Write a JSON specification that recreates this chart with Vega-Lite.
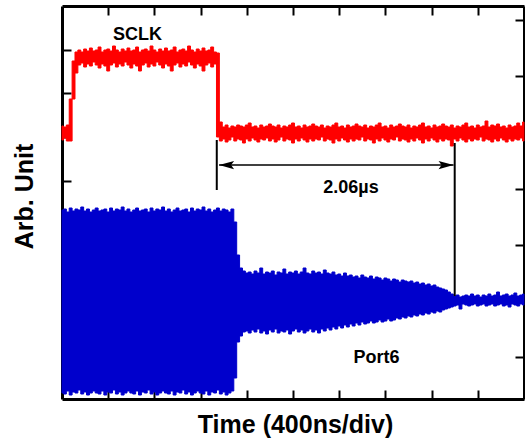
{
  "$schema": "https://vega.github.io/schema/vega-lite/v6.json",
  "autosize": "none",
  "width": 462,
  "height": 393,
  "padding": {"left": 62, "top": 6, "right": 1, "bottom": 46},
  "background": "white",
  "config": {"view": {"stroke": null}, "font": "Liberation Sans"},
  "datasets": {
    "traces": [
      {"t":0,"rt":273,"rb":259,"bt":189,"bb":6},
      {"t":25,"rt":272,"rb":261,"bt":190,"bb":5},
      {"t":50,"rt":274,"rb":258,"bt":187,"bb":8},
      {"t":75,"rt":300,"rb":258,"bt":191,"bb":4},
      {"t":100,"rt":338,"rb":300,"bt":188,"bb":7},
      {"t":125,"rt":347,"rb":326,"bt":190,"bb":6},
      {"t":150,"rt":349,"rb":334,"bt":189,"bb":9},
      {"t":175,"rt":347,"rb":336,"bt":192,"bb":5},
      {"t":200,"rt":350,"rb":332,"bt":188,"bb":7},
      {"t":225,"rt":348,"rb":335,"bt":190,"bb":4},
      {"t":250,"rt":351,"rb":333,"bt":187,"bb":6},
      {"t":275,"rt":348,"rb":337,"bt":189,"bb":8},
      {"t":300,"rt":349,"rb":334,"bt":191,"bb":6},
      {"t":325,"rt":352,"rb":331,"bt":188,"bb":5},
      {"t":350,"rt":347,"rb":335,"bt":189,"bb":8},
      {"t":375,"rt":349,"rb":333,"bt":190,"bb":4},
      {"t":400,"rt":350,"rb":328,"bt":187,"bb":7},
      {"t":425,"rt":348,"rb":334,"bt":191,"bb":6},
      {"t":450,"rt":353,"rb":336,"bt":188,"bb":9},
      {"t":475,"rt":349,"rb":332,"bt":190,"bb":5},
      {"t":500,"rt":347,"rb":335,"bt":189,"bb":7},
      {"t":525,"rt":350,"rb":333,"bt":192,"bb":4},
      {"t":550,"rt":348,"rb":337,"bt":188,"bb":6},
      {"t":575,"rt":351,"rb":334,"bt":190,"bb":8},
      {"t":600,"rt":348,"rb":331,"bt":187,"bb":6},
      {"t":625,"rt":349,"rb":335,"bt":189,"bb":5},
      {"t":650,"rt":352,"rb":333,"bt":191,"bb":8},
      {"t":675,"rt":347,"rb":328,"bt":188,"bb":4},
      {"t":700,"rt":349,"rb":334,"bt":189,"bb":7},
      {"t":725,"rt":350,"rb":336,"bt":190,"bb":6},
      {"t":750,"rt":348,"rb":332,"bt":187,"bb":9},
      {"t":775,"rt":353,"rb":335,"bt":191,"bb":5},
      {"t":800,"rt":349,"rb":333,"bt":188,"bb":7},
      {"t":825,"rt":347,"rb":337,"bt":190,"bb":4},
      {"t":850,"rt":350,"rb":334,"bt":189,"bb":6},
      {"t":875,"rt":348,"rb":331,"bt":192,"bb":8},
      {"t":900,"rt":351,"rb":335,"bt":188,"bb":6},
      {"t":925,"rt":348,"rb":333,"bt":190,"bb":5},
      {"t":950,"rt":349,"rb":328,"bt":187,"bb":8},
      {"t":975,"rt":352,"rb":334,"bt":189,"bb":4},
      {"t":1000,"rt":347,"rb":336,"bt":191,"bb":7},
      {"t":1025,"rt":349,"rb":332,"bt":188,"bb":6},
      {"t":1050,"rt":350,"rb":335,"bt":189,"bb":9},
      {"t":1075,"rt":348,"rb":333,"bt":190,"bb":5},
      {"t":1100,"rt":353,"rb":337,"bt":187,"bb":7},
      {"t":1125,"rt":349,"rb":334,"bt":191,"bb":4},
      {"t":1150,"rt":347,"rb":331,"bt":188,"bb":6},
      {"t":1175,"rt":350,"rb":335,"bt":190,"bb":8},
      {"t":1200,"rt":348,"rb":333,"bt":189,"bb":6},
      {"t":1225,"rt":351,"rb":328,"bt":192,"bb":5},
      {"t":1250,"rt":348,"rb":334,"bt":188,"bb":8},
      {"t":1275,"rt":349,"rb":336,"bt":190,"bb":4},
      {"t":1300,"rt":352,"rb":332,"bt":187,"bb":7},
      {"t":1325,"rt":347,"rb":335,"bt":189,"bb":6},
      {"t":1350,"rt":346,"rb":262,"bt":191,"bb":9},
      {"t":1375,"rt":277,"rb":258,"bt":188,"bb":5},
      {"t":1400,"rt":272,"rb":260,"bt":190,"bb":7},
      {"t":1425,"rt":274,"rb":257,"bt":189,"bb":4},
      {"t":1450,"rt":271,"rb":259,"bt":187,"bb":6},
      {"t":1475,"rt":273,"rb":262,"bt":190,"bb":8},
      {"t":1500,"rt":272,"rb":258,"bt":177,"bb":21},
      {"t":1525,"rt":274,"rb":260,"bt":144,"bb":57},
      {"t":1550,"rt":273,"rb":259,"bt":131,"bb":63},
      {"t":1575,"rt":272,"rb":256,"bt":128,"bb":67},
      {"t":1600,"rt":274,"rb":260,"bt":126,"bb":68},
      {"t":1625,"rt":276,"rb":258,"bt":127,"bb":66},
      {"t":1650,"rt":272,"rb":261,"bt":125,"bb":69},
      {"t":1675,"rt":273,"rb":259,"bt":128,"bb":67},
      {"t":1700,"rt":271,"rb":257,"bt":126,"bb":70},
      {"t":1725,"rt":274,"rb":260,"bt":131,"bb":66},
      {"t":1750,"rt":272,"rb":259,"bt":125,"bb":68},
      {"t":1775,"rt":273,"rb":261,"bt":127,"bb":65},
      {"t":1800,"rt":275,"rb":258,"bt":126,"bb":69},
      {"t":1825,"rt":273,"rb":260,"bt":128,"bb":67},
      {"t":1850,"rt":272,"rb":257,"bt":124,"bb":70},
      {"t":1875,"rt":274,"rb":259,"bt":127,"bb":66},
      {"t":1900,"rt":271,"rb":262,"bt":126,"bb":68},
      {"t":1925,"rt":273,"rb":258,"bt":130,"bb":67},
      {"t":1950,"rt":272,"rb":260,"bt":125,"bb":69},
      {"t":1975,"rt":274,"rb":259,"bt":127,"bb":65},
      {"t":2000,"rt":276,"rb":256,"bt":126,"bb":68},
      {"t":2025,"rt":272,"rb":260,"bt":128,"bb":70},
      {"t":2050,"rt":273,"rb":258,"bt":125,"bb":67},
      {"t":2075,"rt":271,"rb":261,"bt":127,"bb":69},
      {"t":2100,"rt":274,"rb":259,"bt":131,"bb":66},
      {"t":2125,"rt":272,"rb":257,"bt":126,"bb":68},
      {"t":2150,"rt":273,"rb":260,"bt":125,"bb":70},
      {"t":2175,"rt":275,"rb":258,"bt":128,"bb":67},
      {"t":2200,"rt":273,"rb":260,"bt":126,"bb":69},
      {"t":2225,"rt":272,"rb":259,"bt":127,"bb":66},
      {"t":2250,"rt":274,"rb":262,"bt":125,"bb":70},
      {"t":2275,"rt":271,"rb":258,"bt":129,"bb":68},
      {"t":2300,"rt":273,"rb":260,"bt":126,"bb":71},
      {"t":2325,"rt":272,"rb":259,"bt":125,"bb":69},
      {"t":2350,"rt":274,"rb":256,"bt":127,"bb":72},
      {"t":2375,"rt":276,"rb":260,"bt":124,"bb":70},
      {"t":2400,"rt":272,"rb":258,"bt":125,"bb":73},
      {"t":2425,"rt":273,"rb":261,"bt":123,"bb":71},
      {"t":2450,"rt":271,"rb":259,"bt":126,"bb":74},
      {"t":2475,"rt":274,"rb":257,"bt":123,"bb":72},
      {"t":2500,"rt":272,"rb":260,"bt":124,"bb":75},
      {"t":2525,"rt":273,"rb":258,"bt":122,"bb":73},
      {"t":2550,"rt":275,"rb":260,"bt":123,"bb":76},
      {"t":2575,"rt":273,"rb":259,"bt":121,"bb":74},
      {"t":2600,"rt":272,"rb":262,"bt":124,"bb":77},
      {"t":2625,"rt":274,"rb":258,"bt":122,"bb":75},
      {"t":2650,"rt":271,"rb":260,"bt":121,"bb":76},
      {"t":2675,"rt":273,"rb":259,"bt":123,"bb":78},
      {"t":2700,"rt":272,"rb":256,"bt":120,"bb":76},
      {"t":2725,"rt":274,"rb":260,"bt":122,"bb":77},
      {"t":2750,"rt":276,"rb":258,"bt":121,"bb":79},
      {"t":2775,"rt":272,"rb":261,"bt":119,"bb":77},
      {"t":2800,"rt":273,"rb":259,"bt":121,"bb":78},
      {"t":2825,"rt":271,"rb":257,"bt":120,"bb":80},
      {"t":2850,"rt":274,"rb":260,"bt":118,"bb":78},
      {"t":2875,"rt":272,"rb":259,"bt":120,"bb":79},
      {"t":2900,"rt":273,"rb":262,"bt":119,"bb":81},
      {"t":2925,"rt":275,"rb":258,"bt":117,"bb":80},
      {"t":2950,"rt":273,"rb":260,"bt":119,"bb":82},
      {"t":2975,"rt":272,"rb":259,"bt":118,"bb":81},
      {"t":3000,"rt":274,"rb":257,"bt":117,"bb":83},
      {"t":3025,"rt":271,"rb":260,"bt":118,"bb":82},
      {"t":3050,"rt":273,"rb":258,"bt":116,"bb":84},
      {"t":3075,"rt":272,"rb":261,"bt":117,"bb":83},
      {"t":3100,"rt":274,"rb":259,"bt":115,"bb":85},
      {"t":3125,"rt":276,"rb":256,"bt":116,"bb":84},
      {"t":3150,"rt":272,"rb":260,"bt":114,"bb":86},
      {"t":3175,"rt":273,"rb":258,"bt":115,"bb":85},
      {"t":3200,"rt":271,"rb":261,"bt":113,"bb":87},
      {"t":3225,"rt":274,"rb":259,"bt":114,"bb":86},
      {"t":3250,"rt":272,"rb":257,"bt":112,"bb":88},
      {"t":3275,"rt":273,"rb":260,"bt":111,"bb":87},
      {"t":3300,"rt":275,"rb":258,"bt":110,"bb":89},
      {"t":3325,"rt":273,"rb":260,"bt":109,"bb":90},
      {"t":3350,"rt":272,"rb":259,"bt":107,"bb":91},
      {"t":3375,"rt":274,"rb":253,"bt":105,"bb":92},
      {"t":3400,"rt":271,"rb":260,"bt":103,"bb":93},
      {"t":3425,"rt":273,"rb":258,"bt":104,"bb":94},
      {"t":3450,"rt":272,"rb":261,"bt":102,"bb":90},
      {"t":3475,"rt":274,"rb":259,"bt":103,"bb":95},
      {"t":3500,"rt":276,"rb":257,"bt":104,"bb":94},
      {"t":3525,"rt":272,"rb":260,"bt":103,"bb":93},
      {"t":3550,"rt":273,"rb":258,"bt":105,"bb":94},
      {"t":3575,"rt":271,"rb":260,"bt":103,"bb":95},
      {"t":3600,"rt":274,"rb":259,"bt":104,"bb":93},
      {"t":3625,"rt":272,"rb":262,"bt":102,"bb":94},
      {"t":3650,"rt":273,"rb":258,"bt":104,"bb":95},
      {"t":3675,"rt":278,"rb":260,"bt":103,"bb":93},
      {"t":3700,"rt":272,"rb":259,"bt":105,"bb":94},
      {"t":3725,"rt":274,"rb":257,"bt":103,"bb":95},
      {"t":3750,"rt":273,"rb":260,"bt":104,"bb":93},
      {"t":3775,"rt":275,"rb":258,"bt":107,"bb":94},
      {"t":3800,"rt":272,"rb":261,"bt":103,"bb":95},
      {"t":3825,"rt":273,"rb":259,"bt":104,"bb":93},
      {"t":3850,"rt":271,"rb":257,"bt":105,"bb":94},
      {"t":3875,"rt":274,"rb":260,"bt":103,"bb":92},
      {"t":3900,"rt":272,"rb":258,"bt":104,"bb":95},
      {"t":3925,"rt":273,"rb":260,"bt":106,"bb":94},
      {"t":3950,"rt":276,"rb":259,"bt":103,"bb":93},
      {"t":3975,"rt":273,"rb":261,"bt":104,"bb":95},
      {"t":4000,"rt":277,"rb":258,"bt":105,"bb":94}
    ],
    "markers": [
      {"t":1340,"v1":259,"v2":209},
      {"t":3400,"v1":256,"v2":103}
    ],
    "span": [
      {"t1":1360,"t2":3390,"v":234}
    ],
    "labels": [
      {"t":654,"v":359,"label":"SCLK"},
      {"t":2502,"v":206,"label":"2.06µs"},
      {"t":2723,"v":36,"label":"Port6"}
    ]
  },
  "resolve": {"axis": {"x": "independent", "y": "independent"}},
  "layer": [
    {
      "data": {"name": "traces"},
      "mark": {"type": "area", "color": "#ff0000", "stroke": "#ff0000", "strokeWidth": 1, "interpolate": "step"},
      "encoding": {
        "x": {"field": "t", "type": "quantitative", "scale": {"domain": [0, 4000], "nice": false, "zero": false},
          "axis": {"orient": "bottom", "values": [400,800,1200,1600,2000,2400,2800,3200,3600], "labels": false, "grid": false,
            "tickSize": -9, "tickWidth": 2, "tickColor": "black", "domainColor": "black", "domainWidth": 3,
            "title": "Time (400ns/div)", "titleFont": "Liberation Sans", "titleFontSize": 25, "titleFontWeight": "bold", "titleColor": "black",
            "titleX": 233, "titleY": 33, "titleBaseline": "alphabetic"}},
        "y": {"field": "rt", "type": "quantitative", "scale": {"domain": [0, 393], "nice": false, "zero": false},
          "axis": {"orient": "left", "values": [43.67,87.33,131,174.67,218.33,262,305.67,349.33], "labels": false, "grid": false,
            "tickSize": -9, "tickWidth": 2, "tickColor": "black", "domainColor": "black", "domainWidth": 3,
            "title": "Arb. Unit", "titleFont": "Liberation Sans", "titleFontSize": 25, "titleFontWeight": "bold", "titleColor": "black",
            "titleX": -30, "titleY": 190, "titleBaseline": "alphabetic", "titleAngle": 270}},
        "y2": {"field": "rb"}
      }
    },
    {
      "data": {"name": "traces"},
      "mark": {"type": "area", "color": "#0000cc", "stroke": "#0000cc", "strokeWidth": 1, "interpolate": "step"},
      "encoding": {
        "x": {"field": "t", "type": "quantitative",
          "axis": {"orient": "top", "values": [400,800,1200,1600,2000,2400,2800,3200,3600], "labels": false, "grid": false, "title": null,
            "tickSize": -9, "tickWidth": 2, "tickColor": "black", "domainColor": "black", "domainWidth": 3}},
        "y": {"field": "bt", "type": "quantitative",
          "axis": {"orient": "right", "values": [42,98,154,210,267,323,379], "labels": false, "grid": false, "title": null,
            "tickSize": -9, "tickWidth": 2, "tickColor": "black", "domainColor": "black", "domainWidth": 3}},
        "y2": {"field": "bb"}
      }
    },
    {
      "data": {"name": "markers"},
      "mark": {"type": "rule", "color": "black", "strokeWidth": 2},
      "encoding": {
        "x": {"field": "t", "type": "quantitative", "axis": null},
        "y": {"field": "v1", "type": "quantitative", "axis": null},
        "y2": {"field": "v2"}
      }
    },
    {
      "data": {"name": "span"},
      "mark": {"type": "rule", "color": "black", "strokeWidth": 1.5},
      "encoding": {
        "x": {"field": "t1", "type": "quantitative", "axis": null},
        "x2": {"field": "t2"},
        "y": {"field": "v", "type": "quantitative", "axis": null}
      }
    },
    {
      "data": {"name": "span"},
      "mark": {"type": "point", "filled": true, "color": "black", "opacity": 1, "size": 225,
        "shape": "M0,0 L2,-0.55 L1.6,0 L2,0.55 Z"},
      "encoding": {
        "x": {"field": "t1", "type": "quantitative", "axis": null},
        "y": {"field": "v", "type": "quantitative", "axis": null}
      }
    },
    {
      "data": {"name": "span"},
      "mark": {"type": "point", "filled": true, "color": "black", "opacity": 1, "size": 225,
        "shape": "M0,0 L-2,-0.55 L-1.6,0 L-2,0.55 Z"},
      "encoding": {
        "x": {"field": "t2", "type": "quantitative", "axis": null},
        "y": {"field": "v", "type": "quantitative", "axis": null}
      }
    },
    {
      "data": {"name": "labels"},
      "mark": {"type": "text", "font": "Liberation Sans", "fontWeight": "bold", "fontSize": 18, "color": "black",
        "align": "center", "baseline": "alphabetic"},
      "encoding": {
        "x": {"field": "t", "type": "quantitative", "axis": null},
        "y": {"field": "v", "type": "quantitative", "axis": null},
        "text": {"field": "label"}
      }
    }
  ]
}
